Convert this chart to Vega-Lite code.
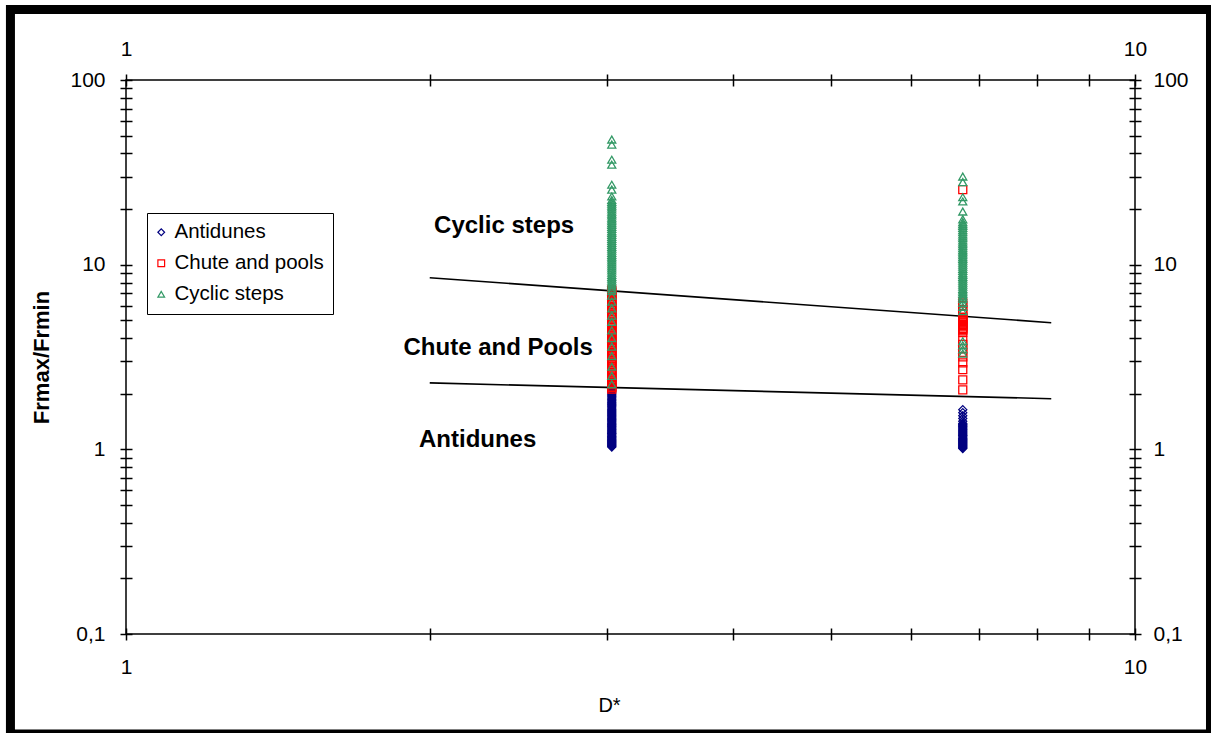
{
"$schema": "https://vega.github.io/schema/vega-lite/v6.json",
"width": 1009,
"height": 554,
"autosize": {"type": "none"},
"padding": {"left": 126, "top": 80, "right": 76, "bottom": 99},
"background": "white",
"datasets": {
"points": [
{"d":3.03,"r":1.03,"type":"Antidunes"},{"d":3.03,"r":1.05,"type":"Antidunes"},{"d":3.03,"r":1.07,"type":"Antidunes"},{"d":3.03,"r":1.09,"type":"Antidunes"},{"d":3.03,"r":1.11,"type":"Antidunes"},{"d":3.03,"r":1.13,"type":"Antidunes"},{"d":3.03,"r":1.16,"type":"Antidunes"},{"d":3.03,"r":1.18,"type":"Antidunes"},{"d":3.03,"r":1.21,"type":"Antidunes"},{"d":3.03,"r":1.23,"type":"Antidunes"},{"d":3.03,"r":1.26,"type":"Antidunes"},{"d":3.03,"r":1.29,"type":"Antidunes"},{"d":3.03,"r":1.32,"type":"Antidunes"},{"d":3.03,"r":1.35,"type":"Antidunes"},{"d":3.03,"r":1.38,"type":"Antidunes"},{"d":3.03,"r":1.42,"type":"Antidunes"},{"d":3.03,"r":1.45,"type":"Antidunes"},{"d":3.03,"r":1.49,"type":"Antidunes"},{"d":3.03,"r":1.53,"type":"Antidunes"},{"d":3.03,"r":1.57,"type":"Antidunes"},{"d":3.03,"r":1.61,"type":"Antidunes"},{"d":3.03,"r":1.65,"type":"Antidunes"},{"d":3.03,"r":1.7,"type":"Antidunes"},{"d":3.03,"r":1.75,"type":"Antidunes"},{"d":3.03,"r":1.8,"type":"Antidunes"},{"d":3.03,"r":1.85,"type":"Antidunes"},{"d":3.03,"r":1.9,"type":"Antidunes"},{"d":3.03,"r":1.96,"type":"Antidunes"},{"d":3.03,"r":2.02,"type":"Antidunes"},{"d":3.03,"r":2.08,"type":"Antidunes"},{"d":3.03,"r":2.14,"type":"Antidunes"},{"d":3.03,"r":2.2,"type":"Antidunes"},
{"d":3.03,"r":1.04,"type":"Antidunes"},{"d":3.03,"r":1.06,"type":"Antidunes"},{"d":3.03,"r":1.08,"type":"Antidunes"},{"d":3.03,"r":1.1,"type":"Antidunes"},{"d":3.03,"r":1.12,"type":"Antidunes"},{"d":3.03,"r":1.145,"type":"Antidunes"},{"d":3.03,"r":1.17,"type":"Antidunes"},{"d":3.03,"r":1.195,"type":"Antidunes"},{"d":3.03,"r":1.22,"type":"Antidunes"},{"d":3.03,"r":1.245,"type":"Antidunes"},{"d":3.03,"r":1.275,"type":"Antidunes"},{"d":3.03,"r":1.305,"type":"Antidunes"},{"d":3.03,"r":1.335,"type":"Antidunes"},{"d":3.03,"r":1.365,"type":"Antidunes"},{"d":3.03,"r":1.4,"type":"Antidunes"},{"d":3.03,"r":1.435,"type":"Antidunes"},{"d":3.03,"r":1.47,"type":"Antidunes"},{"d":3.03,"r":1.51,"type":"Antidunes"},{"d":3.03,"r":1.55,"type":"Antidunes"},{"d":3.03,"r":1.59,"type":"Antidunes"},{"d":3.03,"r":1.63,"type":"Antidunes"},{"d":3.03,"r":1.675,"type":"Antidunes"},{"d":3.03,"r":1.725,"type":"Antidunes"},{"d":3.03,"r":1.775,"type":"Antidunes"},{"d":3.03,"r":1.825,"type":"Antidunes"},{"d":3.03,"r":1.875,"type":"Antidunes"},{"d":3.03,"r":1.93,"type":"Antidunes"},{"d":3.03,"r":1.99,"type":"Antidunes"},{"d":3.03,"r":2.05,"type":"Antidunes"},{"d":3.03,"r":2.11,"type":"Antidunes"},{"d":3.03,"r":2.17,"type":"Antidunes"},
{"d":6.75,"r":1.01,"type":"Antidunes"},{"d":6.75,"r":1.03,"type":"Antidunes"},{"d":6.75,"r":1.05,"type":"Antidunes"},{"d":6.75,"r":1.07,"type":"Antidunes"},{"d":6.75,"r":1.09,"type":"Antidunes"},{"d":6.75,"r":1.11,"type":"Antidunes"},{"d":6.75,"r":1.13,"type":"Antidunes"},{"d":6.75,"r":1.15,"type":"Antidunes"},{"d":6.75,"r":1.18,"type":"Antidunes"},{"d":6.75,"r":1.2,"type":"Antidunes"},{"d":6.75,"r":1.23,"type":"Antidunes"},{"d":6.75,"r":1.26,"type":"Antidunes"},{"d":6.75,"r":1.29,"type":"Antidunes"},{"d":6.75,"r":1.32,"type":"Antidunes"},{"d":6.75,"r":1.35,"type":"Antidunes"},{"d":6.75,"r":1.38,"type":"Antidunes"},{"d":6.75,"r":1.42,"type":"Antidunes"},{"d":6.75,"r":1.47,"type":"Antidunes"},{"d":6.75,"r":1.52,"type":"Antidunes"},{"d":6.75,"r":1.58,"type":"Antidunes"},{"d":6.75,"r":1.64,"type":"Antidunes"},
{"d":6.75,"r":1.02,"type":"Antidunes"},{"d":6.75,"r":1.04,"type":"Antidunes"},{"d":6.75,"r":1.06,"type":"Antidunes"},{"d":6.75,"r":1.08,"type":"Antidunes"},{"d":6.75,"r":1.1,"type":"Antidunes"},{"d":6.75,"r":1.12,"type":"Antidunes"},{"d":6.75,"r":1.14,"type":"Antidunes"},{"d":6.75,"r":1.165,"type":"Antidunes"},{"d":6.75,"r":1.19,"type":"Antidunes"},{"d":6.75,"r":1.215,"type":"Antidunes"},{"d":6.75,"r":1.245,"type":"Antidunes"},{"d":6.75,"r":1.275,"type":"Antidunes"},{"d":6.75,"r":1.305,"type":"Antidunes"},{"d":6.75,"r":1.335,"type":"Antidunes"},{"d":6.75,"r":1.365,"type":"Antidunes"},
{"d":3.03,"r":2.12,"type":"Chute and pools"},{"d":3.03,"r":2.2,"type":"Chute and pools"},{"d":3.03,"r":2.3,"type":"Chute and pools"},{"d":3.03,"r":2.4,"type":"Chute and pools"},{"d":3.03,"r":2.5,"type":"Chute and pools"},{"d":3.03,"r":2.62,"type":"Chute and pools"},{"d":3.03,"r":2.75,"type":"Chute and pools"},{"d":3.03,"r":2.88,"type":"Chute and pools"},{"d":3.03,"r":3.0,"type":"Chute and pools"},{"d":3.03,"r":3.1,"type":"Chute and pools"},{"d":3.03,"r":3.22,"type":"Chute and pools"},{"d":3.03,"r":3.35,"type":"Chute and pools"},{"d":3.03,"r":3.5,"type":"Chute and pools"},{"d":3.03,"r":3.65,"type":"Chute and pools"},{"d":3.03,"r":3.8,"type":"Chute and pools"},{"d":3.03,"r":3.97,"type":"Chute and pools"},{"d":3.03,"r":4.15,"type":"Chute and pools"},{"d":3.03,"r":4.35,"type":"Chute and pools"},{"d":3.03,"r":4.55,"type":"Chute and pools"},{"d":3.03,"r":4.75,"type":"Chute and pools"},{"d":3.03,"r":4.95,"type":"Chute and pools"},{"d":3.03,"r":5.15,"type":"Chute and pools"},{"d":3.03,"r":5.35,"type":"Chute and pools"},{"d":3.03,"r":5.6,"type":"Chute and pools"},{"d":3.03,"r":5.85,"type":"Chute and pools"},{"d":3.03,"r":6.1,"type":"Chute and pools"},{"d":3.03,"r":6.4,"type":"Chute and pools"},{"d":3.03,"r":6.7,"type":"Chute and pools"},{"d":3.03,"r":7.0,"type":"Chute and pools"},{"d":3.03,"r":7.3,"type":"Chute and pools"},
{"d":3.03,"r":2.16,"type":"Chute and pools"},{"d":3.03,"r":2.25,"type":"Chute and pools"},{"d":3.03,"r":2.35,"type":"Chute and pools"},{"d":3.03,"r":2.45,"type":"Chute and pools"},{"d":3.03,"r":2.56,"type":"Chute and pools"},{"d":3.03,"r":2.68,"type":"Chute and pools"},{"d":3.03,"r":2.81,"type":"Chute and pools"},{"d":3.03,"r":2.94,"type":"Chute and pools"},{"d":3.03,"r":3.05,"type":"Chute and pools"},{"d":3.03,"r":3.16,"type":"Chute and pools"},{"d":3.03,"r":3.28,"type":"Chute and pools"},{"d":3.03,"r":3.42,"type":"Chute and pools"},{"d":3.03,"r":3.57,"type":"Chute and pools"},{"d":3.03,"r":3.72,"type":"Chute and pools"},{"d":3.03,"r":3.88,"type":"Chute and pools"},{"d":3.03,"r":4.06,"type":"Chute and pools"},{"d":3.03,"r":4.25,"type":"Chute and pools"},{"d":3.03,"r":4.45,"type":"Chute and pools"},{"d":3.03,"r":4.65,"type":"Chute and pools"},{"d":3.03,"r":4.85,"type":"Chute and pools"},{"d":3.03,"r":5.05,"type":"Chute and pools"},{"d":3.03,"r":5.25,"type":"Chute and pools"},{"d":3.03,"r":5.47,"type":"Chute and pools"},{"d":3.03,"r":5.72,"type":"Chute and pools"},{"d":3.03,"r":5.97,"type":"Chute and pools"},{"d":3.03,"r":6.25,"type":"Chute and pools"},{"d":3.03,"r":6.55,"type":"Chute and pools"},{"d":3.03,"r":6.85,"type":"Chute and pools"},{"d":3.03,"r":7.15,"type":"Chute and pools"},
{"d":6.75,"r":2.1,"type":"Chute and pools"},{"d":6.75,"r":2.38,"type":"Chute and pools"},{"d":6.75,"r":2.7,"type":"Chute and pools"},{"d":6.75,"r":2.94,"type":"Chute and pools"},{"d":6.75,"r":3.17,"type":"Chute and pools"},{"d":6.75,"r":3.35,"type":"Chute and pools"},{"d":6.75,"r":3.52,"type":"Chute and pools"},{"d":6.75,"r":3.7,"type":"Chute and pools"},{"d":6.75,"r":3.88,"type":"Chute and pools"},{"d":6.75,"r":4.3,"type":"Chute and pools"},{"d":6.75,"r":4.45,"type":"Chute and pools"},{"d":6.75,"r":4.6,"type":"Chute and pools"},{"d":6.75,"r":4.75,"type":"Chute and pools"},{"d":6.75,"r":4.9,"type":"Chute and pools"},{"d":6.75,"r":5.05,"type":"Chute and pools"},{"d":6.75,"r":5.2,"type":"Chute and pools"},{"d":6.75,"r":5.4,"type":"Chute and pools"},{"d":6.75,"r":5.7,"type":"Chute and pools"},{"d":6.75,"r":6.0,"type":"Chute and pools"},{"d":6.75,"r":6.2,"type":"Chute and pools"},{"d":6.75,"r":25.5,"type":"Chute and pools"},
{"d":6.75,"r":4.38,"type":"Chute and pools"},{"d":6.75,"r":4.52,"type":"Chute and pools"},{"d":6.75,"r":4.68,"type":"Chute and pools"},{"d":6.75,"r":4.82,"type":"Chute and pools"},{"d":6.75,"r":4.98,"type":"Chute and pools"},{"d":6.75,"r":5.12,"type":"Chute and pools"},
{"d":3.03,"r":2.25,"type":"Cyclic steps"},{"d":3.03,"r":2.5,"type":"Cyclic steps"},{"d":3.03,"r":2.8,"type":"Cyclic steps"},{"d":3.03,"r":3.2,"type":"Cyclic steps"},{"d":3.03,"r":3.6,"type":"Cyclic steps"},{"d":3.03,"r":4.0,"type":"Cyclic steps"},{"d":3.03,"r":4.4,"type":"Cyclic steps"},{"d":3.03,"r":4.9,"type":"Cyclic steps"},{"d":3.03,"r":5.3,"type":"Cyclic steps"},{"d":3.03,"r":5.8,"type":"Cyclic steps"},{"d":3.03,"r":6.3,"type":"Cyclic steps"},{"d":3.03,"r":6.8,"type":"Cyclic steps"},{"d":3.03,"r":7.2,"type":"Cyclic steps"},{"d":3.03,"r":7.6,"type":"Cyclic steps"},{"d":3.03,"r":8.0,"type":"Cyclic steps"},{"d":3.03,"r":8.4,"type":"Cyclic steps"},{"d":3.03,"r":8.8,"type":"Cyclic steps"},{"d":3.03,"r":9.3,"type":"Cyclic steps"},{"d":3.03,"r":9.8,"type":"Cyclic steps"},{"d":3.03,"r":10.3,"type":"Cyclic steps"},{"d":3.03,"r":10.8,"type":"Cyclic steps"},{"d":3.03,"r":11.3,"type":"Cyclic steps"},{"d":3.03,"r":11.9,"type":"Cyclic steps"},{"d":3.03,"r":12.5,"type":"Cyclic steps"},{"d":3.03,"r":13.1,"type":"Cyclic steps"},{"d":3.03,"r":13.8,"type":"Cyclic steps"},{"d":3.03,"r":14.5,"type":"Cyclic steps"},{"d":3.03,"r":15.2,"type":"Cyclic steps"},{"d":3.03,"r":16.0,"type":"Cyclic steps"},{"d":3.03,"r":16.8,"type":"Cyclic steps"},{"d":3.03,"r":17.6,"type":"Cyclic steps"},{"d":3.03,"r":18.5,"type":"Cyclic steps"},{"d":3.03,"r":19.4,"type":"Cyclic steps"},{"d":3.03,"r":20.4,"type":"Cyclic steps"},{"d":3.03,"r":21.4,"type":"Cyclic steps"},{"d":3.03,"r":22.4,"type":"Cyclic steps"},{"d":3.03,"r":23.4,"type":"Cyclic steps"},{"d":3.03,"r":25.5,"type":"Cyclic steps"},{"d":3.03,"r":27.1,"type":"Cyclic steps"},{"d":3.03,"r":34.8,"type":"Cyclic steps"},{"d":3.03,"r":37.0,"type":"Cyclic steps"},{"d":3.03,"r":44.7,"type":"Cyclic steps"},{"d":3.03,"r":47.6,"type":"Cyclic steps"},
{"d":3.03,"r":7.4,"type":"Cyclic steps"},{"d":3.03,"r":7.8,"type":"Cyclic steps"},{"d":3.03,"r":8.2,"type":"Cyclic steps"},{"d":3.03,"r":8.6,"type":"Cyclic steps"},{"d":3.03,"r":9.05,"type":"Cyclic steps"},{"d":3.03,"r":9.55,"type":"Cyclic steps"},{"d":3.03,"r":10.05,"type":"Cyclic steps"},{"d":3.03,"r":10.55,"type":"Cyclic steps"},{"d":3.03,"r":11.05,"type":"Cyclic steps"},{"d":3.03,"r":11.6,"type":"Cyclic steps"},{"d":3.03,"r":12.2,"type":"Cyclic steps"},{"d":3.03,"r":12.8,"type":"Cyclic steps"},{"d":3.03,"r":13.45,"type":"Cyclic steps"},{"d":3.03,"r":14.15,"type":"Cyclic steps"},{"d":3.03,"r":14.85,"type":"Cyclic steps"},{"d":3.03,"r":15.6,"type":"Cyclic steps"},{"d":3.03,"r":16.4,"type":"Cyclic steps"},{"d":3.03,"r":17.2,"type":"Cyclic steps"},{"d":3.03,"r":18.0,"type":"Cyclic steps"},{"d":3.03,"r":18.9,"type":"Cyclic steps"},{"d":3.03,"r":19.9,"type":"Cyclic steps"},{"d":3.03,"r":20.9,"type":"Cyclic steps"},{"d":3.03,"r":21.9,"type":"Cyclic steps"},
{"d":6.75,"r":3.3,"type":"Cyclic steps"},{"d":6.75,"r":3.48,"type":"Cyclic steps"},{"d":6.75,"r":3.66,"type":"Cyclic steps"},{"d":6.75,"r":3.85,"type":"Cyclic steps"},{"d":6.75,"r":5.6,"type":"Cyclic steps"},{"d":6.75,"r":5.9,"type":"Cyclic steps"},{"d":6.75,"r":6.2,"type":"Cyclic steps"},{"d":6.75,"r":6.5,"type":"Cyclic steps"},{"d":6.75,"r":6.8,"type":"Cyclic steps"},{"d":6.75,"r":7.1,"type":"Cyclic steps"},{"d":6.75,"r":7.4,"type":"Cyclic steps"},{"d":6.75,"r":7.8,"type":"Cyclic steps"},{"d":6.75,"r":8.2,"type":"Cyclic steps"},{"d":6.75,"r":8.6,"type":"Cyclic steps"},{"d":6.75,"r":9.0,"type":"Cyclic steps"},{"d":6.75,"r":9.5,"type":"Cyclic steps"},{"d":6.75,"r":10.0,"type":"Cyclic steps"},{"d":6.75,"r":10.5,"type":"Cyclic steps"},{"d":6.75,"r":11.0,"type":"Cyclic steps"},{"d":6.75,"r":11.5,"type":"Cyclic steps"},{"d":6.75,"r":12.0,"type":"Cyclic steps"},{"d":6.75,"r":12.6,"type":"Cyclic steps"},{"d":6.75,"r":13.2,"type":"Cyclic steps"},{"d":6.75,"r":13.9,"type":"Cyclic steps"},{"d":6.75,"r":14.6,"type":"Cyclic steps"},{"d":6.75,"r":15.4,"type":"Cyclic steps"},{"d":6.75,"r":16.2,"type":"Cyclic steps"},{"d":6.75,"r":17.0,"type":"Cyclic steps"},{"d":6.75,"r":17.6,"type":"Cyclic steps"},{"d":6.75,"r":19.4,"type":"Cyclic steps"},{"d":6.75,"r":22.0,"type":"Cyclic steps"},{"d":6.75,"r":23.2,"type":"Cyclic steps"},{"d":6.75,"r":28.0,"type":"Cyclic steps"},{"d":6.75,"r":30.0,"type":"Cyclic steps"},
{"d":6.75,"r":6.65,"type":"Cyclic steps"},{"d":6.75,"r":6.95,"type":"Cyclic steps"},{"d":6.75,"r":7.25,"type":"Cyclic steps"},{"d":6.75,"r":7.6,"type":"Cyclic steps"},{"d":6.75,"r":8.0,"type":"Cyclic steps"},{"d":6.75,"r":8.4,"type":"Cyclic steps"},{"d":6.75,"r":8.8,"type":"Cyclic steps"},{"d":6.75,"r":9.25,"type":"Cyclic steps"},{"d":6.75,"r":9.75,"type":"Cyclic steps"},{"d":6.75,"r":10.25,"type":"Cyclic steps"},{"d":6.75,"r":10.75,"type":"Cyclic steps"},{"d":6.75,"r":11.25,"type":"Cyclic steps"},{"d":6.75,"r":11.75,"type":"Cyclic steps"},{"d":6.75,"r":12.3,"type":"Cyclic steps"},{"d":6.75,"r":12.9,"type":"Cyclic steps"},{"d":6.75,"r":13.55,"type":"Cyclic steps"},{"d":6.75,"r":14.25,"type":"Cyclic steps"},{"d":6.75,"r":15.0,"type":"Cyclic steps"},{"d":6.75,"r":15.8,"type":"Cyclic steps"},{"d":6.75,"r":16.6,"type":"Cyclic steps"}
],
"lines": [
{"b":"upper","d":2,"r":8.5},{"b":"upper","d":8.26,"r":4.85},
{"b":"lower","d":2,"r":2.29},{"b":"lower","d":8.26,"r":1.88}
],
"labels": [
{"t":"Cyclic steps","d":2.37,"r":16.1},
{"t":"Chute and Pools","d":2.338,"r":3.52},
{"t":"Antidunes","d":2.231,"r":1.123}
],
"frame": [
{"x1":0.7682,"x2":11.88,"y1":240.9,"y2":0.02874}
]
},
"layer": [
{
"data": {"name": "lines"},
"mark": {"type": "line", "color": "#000", "strokeWidth": 1.6},
"encoding": {
"x": {"field": "d", "type": "quantitative",
"scale": {"type": "log", "domain": [1, 10], "nice": false},
"axis": {"orient": "bottom", "values": [1,2,3,4,5,6,7,8,9,10], "format": "~g",
"labelExpr": "datum.value == 1 || datum.value == 10 ? datum.label : ''",
"offset": -6, "tickSize": 12, "labelPadding": 16,
"title": "D*", "titleFontSize": 20, "titleFontWeight": "normal", "titleColor": "#000", "titlePadding": 18, "titleX": 483}},
"y": {"field": "r", "type": "quantitative",
"scale": {"type": "log", "domain": [0.1, 100], "nice": false},
"axis": {"orient": "left", "values": [0.1,0.2,0.3,0.4,0.5,0.6,0.7,0.8,0.9,1,2,3,4,5,6,7,8,9,10,20,30,40,50,60,70,80,90,100], "format": "~g",
"labelExpr": "datum.value == 0.1 ? '0,1' : (datum.value == 1 || datum.value == 10 || datum.value == 100) ? datum.label : ''",
"offset": -6, "tickSize": 12, "labelPadding": 15,
"title": "Frmax/Frmin", "titleFontSize": 22, "titleFontWeight": "bold", "titleColor": "#000", "titlePadding": 16}},
"detail": {"field": "b"}
}
},
{
"data": {"name": "points"},
"mark": {"type": "point", "filled": false, "size": 64, "strokeWidth": 1.3, "opacity": 1},
"encoding": {
"x": {"field": "d", "type": "quantitative",
"axis": {"orient": "top", "values": [1,2,3,4,5,6,7,8,9,10], "format": "~g",
"labelExpr": "datum.value == 1 || datum.value == 10 ? datum.label : ''",
"offset": -6, "tickSize": 12, "labelPadding": 15, "title": null}},
"y": {"field": "r", "type": "quantitative",
"axis": {"orient": "right", "values": [0.1,0.2,0.3,0.4,0.5,0.6,0.7,0.8,0.9,1,2,3,4,5,6,7,8,9,10,20,30,40,50,60,70,80,90,100], "format": "~g",
"labelExpr": "datum.value == 0.1 ? '0,1' : (datum.value == 1 || datum.value == 10 || datum.value == 100) ? datum.label : ''",
"offset": -6, "tickSize": 12, "labelPadding": 12, "title": null}},
"color": {"field": "type", "type": "nominal",
"scale": {"domain": ["Antidunes", "Chute and pools", "Cyclic steps"], "range": ["#000080", "#ff0000", "#339966"]},
"legend": {"orient": "none", "legendX": 21, "legendY": 133, "title": null, "strokeColor": "#000", "fillColor": "#fff", "padding": 9, "labelFontSize": 20.5, "labelColor": "#000", "symbolSize": 45, "symbolStrokeWidth": 1.2, "rowPadding": 10, "labelOffset": 3, "symbolOffset": -5}},
"shape": {"field": "type", "type": "nominal",
"scale": {"domain": ["Antidunes", "Chute and pools", "Cyclic steps"], "range": ["diamond", "square", "triangle-up"]},
"legend": {"orient": "none", "legendX": 21, "legendY": 133, "title": null, "strokeColor": "#000", "fillColor": "#fff", "padding": 9, "labelFontSize": 20.5, "labelColor": "#000", "symbolSize": 45, "symbolStrokeWidth": 1.2, "rowPadding": 10, "labelOffset": 3, "symbolOffset": -5}}
}
},
{
"data": {"name": "labels"},
"mark": {"type": "text", "fontSize": 24, "fontWeight": "bold", "color": "#000", "align": "center", "baseline": "middle"},
"encoding": {
"x": {"field": "d", "type": "quantitative", "axis": null},
"y": {"field": "r", "type": "quantitative", "axis": null},
"text": {"field": "t"}
}
},
{
"data": {"name": "frame"},
"mark": {"type": "rect", "fill": "transparent", "stroke": "#000", "strokeWidth": 9, "clip": false},
"encoding": {
"x": {"field": "x1", "type": "quantitative", "axis": null},
"x2": {"field": "x2"},
"y": {"field": "y1", "type": "quantitative", "axis": null},
"y2": {"field": "y2"}
}
}
],
"resolve": {"axis": {"x": "independent", "y": "independent"}},
"config": {
"font": "Liberation Sans",
"view": {"stroke": "#000", "strokeWidth": 1.5},
"axis": {"grid": false, "domain": false, "tickColor": "#000", "tickWidth": 1.5, "labelFontSize": 21, "labelColor": "#000", "labelFlush": false, "labelOverlap": false, "labelBound": false, "labelFont": "Liberation Sans", "titleFont": "Liberation Sans"},
"legend": {"labelFont": "Liberation Sans"},
"text": {"font": "Liberation Sans"}
}
}
